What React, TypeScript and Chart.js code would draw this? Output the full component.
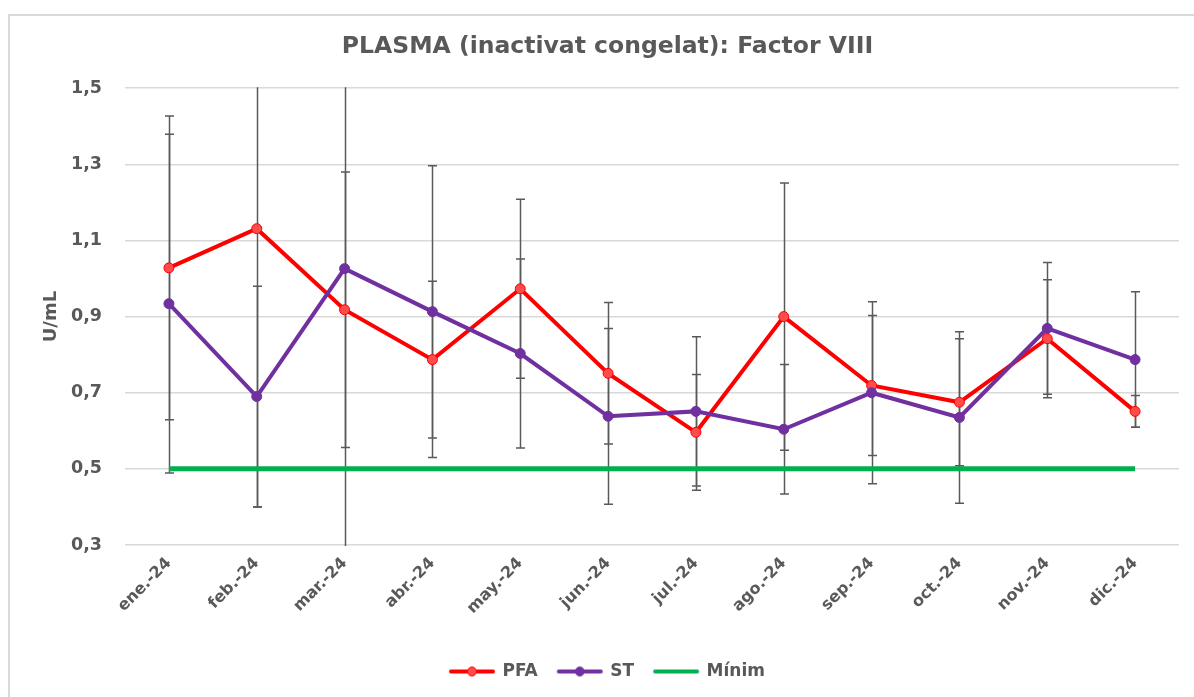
import React, { useEffect, useRef } from "react";
import { Chart, registerables } from "chart.js";

Chart.register(...registerables);

const months = ["ene.-24", "feb.-24", "mar.-24", "abr.-24", "may.-24", "jun.-24", "jul.-24", "ago.-24", "sep.-24", "oct.-24", "nov.-24", "dic.-24"];
const pfaValues = [1.028, 1.131, 0.918, 0.787, 0.973, 0.751, 0.596, 0.900, 0.719, 0.675, 0.842, 0.651];
const pfaErrors = [0.399, 0.731, 0.362, 0.206, 0.235, 0.186, 0.152, 0.351, 0.184, 0.167, 0.155, 0.042];
const stValues = [0.934, 0.690, 1.026, 0.913, 0.803, 0.638, 0.651, 0.604, 0.700, 0.635, 0.869, 0.787];
const stErrors = [0.445, 0.290, 0.780, 0.383, 0.248, 0.231, 0.196, 0.170, 0.239, 0.225, 0.173, 0.178];
const minimValues = [0.5, 0.5, 0.5, 0.5, 0.5, 0.5, 0.5, 0.5, 0.5, 0.5, 0.5, 0.5];
const yTickValues = [0.3, 0.5, 0.7, 0.9, 1.1, 1.3, 1.5];
const yTickLabels = ["0,3", "0,5", "0,7", "0,9", "1,1", "1,3", "1,5"];

const FONT = "'DejaVu Sans', Verdana, sans-serif";
const GREY = "#595959";

const errorBarsPlugin = {
  id: "errorBars",
  beforeDatasetsDraw(chart: any, _args: any, opts: any) {
    const { ctx, chartArea, scales } = chart;
    const x = scales.x;
    const y = scales.y;
    const sets = opts.sets || [];
    ctx.save();
    ctx.beginPath();
    ctx.rect(chartArea.left, chartArea.top - 1, chartArea.right - chartArea.left, chartArea.bottom - chartArea.top + 2);
    ctx.clip();
    ctx.strokeStyle = GREY;
    ctx.lineWidth = 1.5;
    sets.forEach((errs: number[] | null, di: number) => {
      if (!errs) return;
      const data = chart.data.datasets[di].data as number[];
      data.forEach((v, i) => {
        const px = Math.round(x.getPixelForValue(i)) + 0.5;
        const top = y.getPixelForValue(v + errs[i]);
        const bot = y.getPixelForValue(v - errs[i]);
        ctx.beginPath();
        ctx.moveTo(px, top);
        ctx.lineTo(px, bot);
        ctx.moveTo(px - 4.5, top);
        ctx.lineTo(px + 4.5, top);
        ctx.moveTo(px - 4.5, bot);
        ctx.lineTo(px + 4.5, bot);
        ctx.stroke();
      });
    });
    ctx.restore();
  },
};

function makeIcon(color: string, dot: boolean, dotFill: string) {
  const c = document.createElement("canvas");
  c.width = 48;
  c.height = 14;
  const g = c.getContext("2d")!;
  g.strokeStyle = color;
  g.lineWidth = 4;
  g.lineCap = "round";
  g.beginPath();
  g.moveTo(3, 7);
  g.lineTo(45, 7);
  g.stroke();
  if (dot) {
    g.beginPath();
    g.arc(24, 7, 4.5, 0, Math.PI * 2);
    g.fillStyle = dotFill;
    g.fill();
    g.lineWidth = 1;
    g.stroke();
  }
  return c;
}

export default function App() {
  const ref = useRef<HTMLCanvasElement | null>(null);

  useEffect(() => {
    if (!ref.current) return;
    const icons = [
      makeIcon("#ff0000", true, "#ff4b4b"),
      makeIcon("#7030a0", true, "#7030a0"),
      makeIcon("#00b050", false, "#00b050"),
    ];
    const chart = new Chart(ref.current, {
      type: "line",
      data: {
        labels: months,
        datasets: [
          {
            label: "PFA",
            data: pfaValues,
            borderColor: "#ff0000",
            borderWidth: 4,
            pointRadius: 5,
            pointBackgroundColor: "#ff4b4b",
            pointBorderColor: "#ff0000",
            pointBorderWidth: 1,
            tension: 0,
            order: 3,
          },
          {
            label: "ST",
            data: stValues,
            borderColor: "#7030a0",
            borderWidth: 4,
            pointRadius: 5,
            pointBackgroundColor: "#7030a0",
            pointBorderColor: "#7030a0",
            pointBorderWidth: 1,
            tension: 0,
            order: 2,
          },
          {
            label: "Mínim",
            data: minimValues,
            borderColor: "#00b050",
            borderWidth: 5,
            pointRadius: 0,
            tension: 0,
            order: 1,
          },
        ],
      },
      options: {
        responsive: false,
        animation: false,
        devicePixelRatio: 1,
        layout: { padding: { left: 36, right: 15, top: 0, bottom: 7 } },
        scales: {
          x: {
            offset: true,
            grid: { display: false, drawTicks: false },
            border: { display: false },
            ticks: {
              maxRotation: 45,
              minRotation: 45,
              padding: 9,
              color: GREY,
              font: { family: FONT, size: 16, weight: "bold" },
            },
            afterFit(scale: any) {
              scale.height = 98;
            },
          },
          y: {
            min: 0.3,
            max: 1.5,
            afterBuildTicks(scale: any) {
              scale.ticks = yTickValues.map((v) => ({ value: v }));
            },
            afterFit(scale: any) {
              scale.width = 89;
            },
            grid: { color: "#d9d9d9", lineWidth: 1.5, drawTicks: false },
            border: { display: false },
            ticks: {
              padding: 23,
              color: GREY,
              font: { family: FONT, size: 17.5, weight: "bold" },
              callback: (_v: any, i: number) => yTickLabels[i],
            },
            title: {
              display: true,
              text: "U/mL",
              color: GREY,
              font: { family: FONT, size: 18, weight: "bold" },
              padding: { top: 5, bottom: 0 },
            },
          },
        },
        plugins: {
          title: {
            display: true,
            text: "PLASMA (inactivat congelat): Factor VIII",
            color: GREY,
            font: { family: FONT, size: 23.5, weight: "bold" },
            padding: { top: 33, bottom: 27 },
          },
          legend: {
            position: "bottom",
            labels: {
              usePointStyle: true,
              pointStyleWidth: 44,
              boxHeight: 17,
              padding: 20,
              color: GREY,
              font: { family: FONT, size: 17, weight: "bold" },
              generateLabels: (ch: any) =>
                ch.data.datasets.map((ds: any, i: number) => ({
                  text: ds.label,
                  pointStyle: icons[i],
                  fillStyle: ds.borderColor,
                  strokeStyle: ds.borderColor,
                  lineWidth: 0,
                  hidden: false,
                  datasetIndex: i,
                  fontColor: GREY,
                })),
            },
          },
          tooltip: { enabled: false },
          errorBars: { sets: [pfaErrors, stErrors, null] },
        } as any,
      },
      plugins: [errorBarsPlugin],
    } as any);
    return () => chart.destroy();
  }, []);

  return (
    <div style={{ position: "fixed", left: 0, top: 0, width: 1194, height: 697, overflow: "hidden", background: "#fff" }}>
      <div
        style={{
          position: "absolute",
          left: 8,
          top: 14,
          width: 1200,
          height: 700,
          border: "2px solid #d9d9d9",
        }}
      />
      <canvas ref={ref} width={1194} height={697} style={{ position: "absolute", left: 0, top: 0, width: 1194, height: 697 }} />
    </div>
  );
}
